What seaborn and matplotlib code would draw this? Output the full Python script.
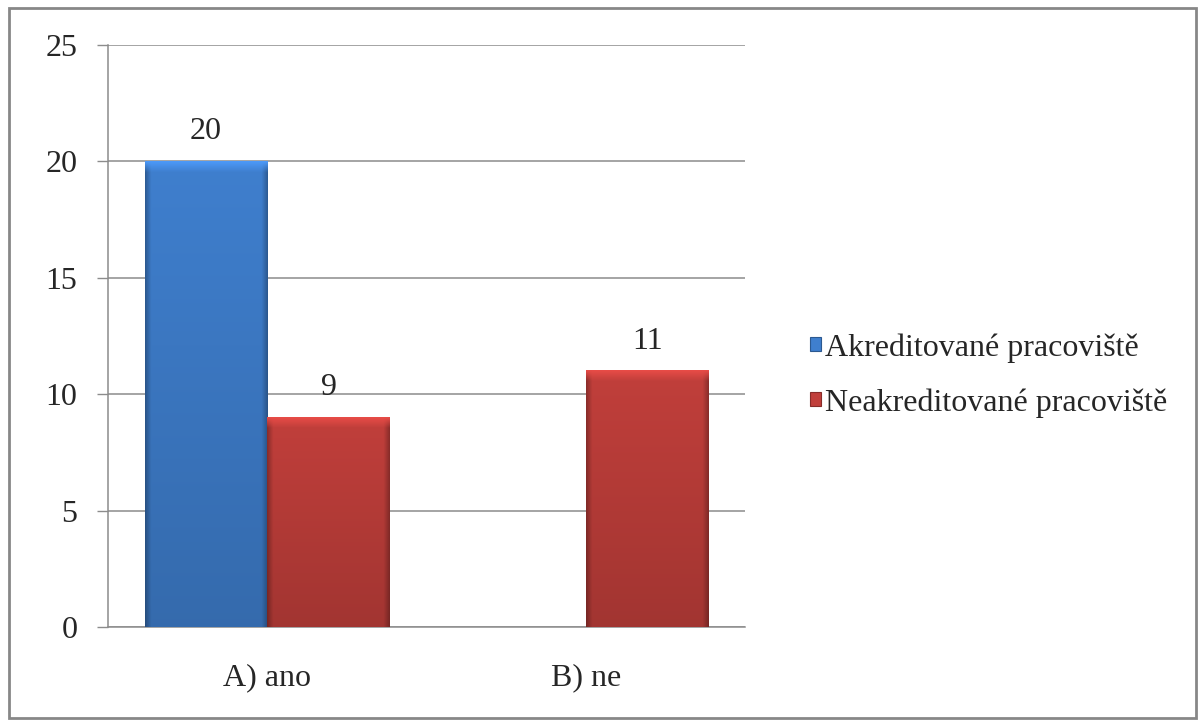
import numpy as np
import pandas as pd
import matplotlib
matplotlib.use("Agg")
import matplotlib.pyplot as plt
import matplotlib.colors as mcolors
from matplotlib.patches import Rectangle
import seaborn as sns

categories = ["A) ano", "B) ne"]
series_names = ["Akreditované pracoviště", "Neakreditované pracoviště"]
akreditovane = [20, np.nan]
neakreditovane = [9, 11]
y_ticks = [0, 5, 10, 15, 20, 25]

series_colors = {"Akreditované pracoviště": "#3F7FCE",
                 "Neakreditované pracoviště": "#C13F3B"}

df = pd.DataFrame({
    "kategorie": categories * 2,
    "serie": [series_names[0]] * len(categories) + [series_names[1]] * len(categories),
    "pocet": akreditovane + neakreditovane,
})

sns.set_theme(style="white")
plt.rcParams["font.family"] = ["Liberation Serif", "DejaVu Serif"]
FS = 23

fig = plt.figure(figsize=(12.04, 7.26), dpi=100)
ax = fig.add_axes([0.0897, 0.1364, 0.5291, 0.8016])

sns.barplot(data=df, x="kategorie", y="pocet", hue="serie", order=categories,
            hue_order=series_names, palette=series_colors, width=0.77,
            saturation=1, ax=ax, legend=False, edgecolor="none", linewidth=0, zorder=3)

# shaded, bevelled look for each bar
def shade(c, f):
    r, g, b = mcolors.to_rgb(c)
    return (r * f, g * f, b * f)

for cont, name in zip(ax.containers, series_names):
    base = series_colors[name]
    for p in cont.patches:
        h = p.get_height()
        if not np.isfinite(h) or h <= 0:
            continue
        x0, w = p.get_x(), p.get_width()
        xs = np.linspace(0, 1, 200)
        edge = np.clip(np.minimum(xs, 1 - xs) / 0.05, 0, 1)
        fx = 0.72 + 0.28 * edge
        ys = np.linspace(0, 1, 300)[:, None]
        fy = 0.84 + 0.16 * ys
        top = np.clip((1 - ys) * h / 0.45, 0, 1)
        f = fx[None, :] * fy
        rgb = np.array(mcolors.to_rgb(base))
        img = np.clip(rgb[None, None, :] * f[:, :, None], 0, 1)
        light = np.clip(rgb * 1.2, 0, 1)
        img = img * top[:, :, None] + light[None, None, :] * (1 - top[:, :, None])
        ax.imshow(img, extent=(x0, x0 + w, 0, h), origin="lower", aspect="auto",
                  zorder=4, clip_path=p, interpolation="bilinear")
    ax.bar_label(cont, labels=["" if not np.isfinite(v) else f"{v:.0f}" for v in cont.datavalues],
                 padding=11, fontsize=FS, zorder=5)

ax.set_xlim(-0.5, len(categories) - 0.5)
ax.set_ylim(0, 25)
ax.set_yticks(y_ticks)
ax.set_yticklabels([str(t) for t in y_ticks], fontsize=FS)
ax.grid(axis="y", color="#8C8C8C", linewidth=1.1, zorder=0)
ax.set_axisbelow(True)
ax.set_xlabel("")
ax.set_ylabel("")
ax.set_xticks(range(len(categories)))
ax.set_xticklabels(categories, fontsize=FS)
ax.set_xticks(np.arange(-0.5, len(categories), 1.0), minor=True)
ax.tick_params(axis="x", which="major", length=0, pad=26)
ax.tick_params(axis="x", which="minor", length=10, width=1, color="#8C8C8C", direction="out")
ax.tick_params(axis="y", length=8, width=1, color="#8C8C8C", direction="out", left=True, pad=14)
for side in ["top", "right"]:
    ax.spines[side].set_visible(False)
for side in ["left", "bottom"]:
    ax.spines[side].set_color("#8C8C8C")
    ax.spines[side].set_linewidth(1.1)

handles = [Rectangle((0, 0), 1, 1, facecolor=series_colors[n], edgecolor=shade(series_colors[n], 0.7),
                     linewidth=0.8) for n in series_names]
fig.legend(handles, series_names, loc="center left", bbox_to_anchor=(0.673, 0.483),
           frameon=False, fontsize=FS, handlelength=0.33, handleheight=0.3,
           handletextpad=0.12, labelspacing=0.8, borderpad=0, borderaxespad=0)

# outer chart frame
fig.patches.append(Rectangle((0.0075, 0.011), 0.986, 0.978, transform=fig.transFigure,
                             fill=False, edgecolor="#878787", linewidth=2))

fig.savefig("out.png", dpi=100)
